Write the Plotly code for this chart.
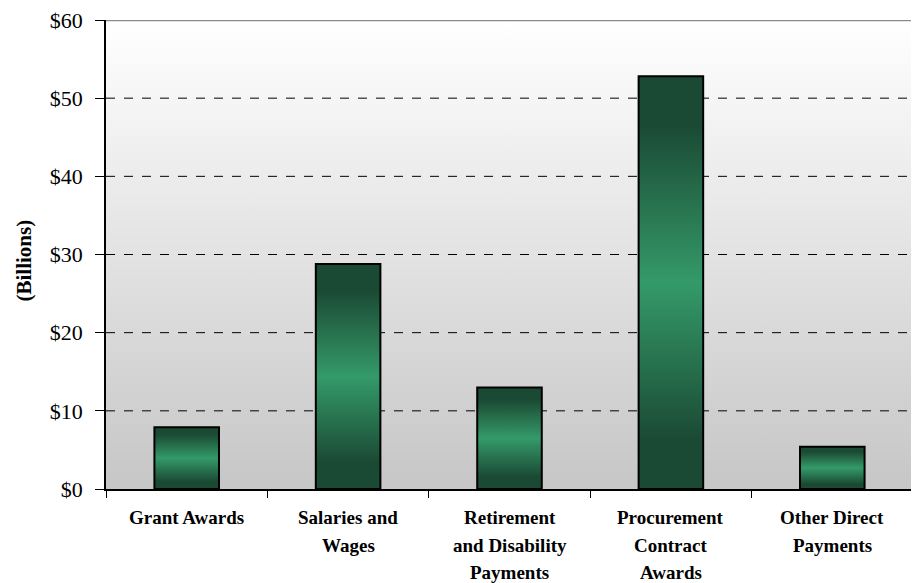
import plotly.graph_objects as go

categories = ["Grant Awards", "Salaries and<br>Wages", "Retirement<br>and Disability<br>Payments",
              "Procurement<br>Contract<br>Awards", "Other Direct<br>Payments"]
values = [7.9, 28.8, 13.0, 52.8, 5.4]
y_ticks = [0, 10, 20, 30, 40, 50, 60]
y_tick_labels = ["$%d" % v for v in y_ticks]
y_title = "(Billions)"

BAR_W = 0.4
DARK = "#1b4a34"
LIGHT = "#349a69"
X_MIN, X_MAX = -0.5, len(values) - 0.5
Y_MIN, Y_MAX = y_ticks[0], y_ticks[-1]

fig = go.Figure()

# plot-area background gradient
fig.add_trace(go.Scatter(
    x=[X_MIN, X_MAX, X_MAX, X_MIN, X_MIN], y=[Y_MIN, Y_MIN, Y_MAX, Y_MAX, Y_MIN],
    mode="none", fill="toself",
    fillgradient=dict(type="vertical", colorscale=[[0, "#c6c6c6"], [1, "#ffffff"]]),
    hoverinfo="skip", showlegend=False))

# dashed gridlines
for t in y_ticks[1:-1]:
    fig.add_trace(go.Scatter(x=[X_MIN, X_MAX], y=[t, t], mode="lines",
                             line=dict(color="black", width=1, dash="dash"),
                             hoverinfo="skip", showlegend=False))

# gradient bars with outlines
for i, v in enumerate(values):
    x0, x1 = i - BAR_W / 2, i + BAR_W / 2
    fig.add_trace(go.Scatter(
        x=[x0, x1, x1, x0, x0], y=[0, 0, v, v, 0],
        mode="lines", fill="toself",
        line=dict(color="black", width=2),
        fillgradient=dict(type="vertical",
                          colorscale=[[0, DARK], [0.12, DARK], [0.5, LIGHT], [0.88, DARK], [1, DARK]]),
        name=categories[i].replace("<br>", " "), hoverinfo="name+y", showlegend=False))

# plot-area border (top and right), grey
fig.add_trace(go.Scatter(x=[X_MIN, X_MAX, X_MAX], y=[Y_MAX, Y_MAX, Y_MIN], mode="lines",
                         line=dict(color="#8a8a8a", width=2.5), cliponaxis=False,
                         hoverinfo="skip", showlegend=False))

# multi-line category labels
for i, lab in enumerate(categories):
    for k, line in enumerate(lab.split("<br>")):
        fig.add_annotation(x=i, y=0, xref="x", yref="y", text="<b>%s</b>" % line,
                           showarrow=False, yanchor="top", xanchor="center",
                           yshift=-(16 + 27.5 * k),
                           font=dict(size=19, family="Liberation Serif", color="black"))

# y-axis title
fig.add_annotation(x=0, y=0.5, xref="paper", yref="paper", text="<b>%s</b>" % y_title,
                   textangle=-90, showarrow=False, xanchor="center", yanchor="middle",
                   xshift=-83, yshift=-6, font=dict(size=21, family="Liberation Serif", color="black"))

fig.update_layout(
    width=911, height=575,
    margin=dict(l=98, r=6, t=12, b=94, autoexpand=False),
    paper_bgcolor="white", plot_bgcolor="white",
    font=dict(family="Liberation Serif, Times New Roman, serif", color="black"),
    xaxis=dict(range=[X_MIN, X_MAX], tickvals=list(range(len(categories))), showticklabels=False,
               ticks="", showgrid=False, zeroline=False, showline=True, linecolor="black", linewidth=1.5,
               minor=dict(tick0=-0.5, dtick=1, ticks="outside", ticklen=7, tickcolor="black", tickwidth=1.2),
               fixedrange=True, automargin=False),
    yaxis=dict(range=[Y_MIN, Y_MAX], tickvals=y_ticks, ticktext=y_tick_labels,
               ticks="outside", ticklen=9, tickcolor="black", showgrid=False, zeroline=False,
               showline=True, linecolor="black", linewidth=1.5, ticklabelstandoff=8,
               ticklabeloverflow="allow",
               tickfont=dict(size=22, family="Liberation Serif"),
               fixedrange=True, automargin=False),
)

fig.write_html("out.html")
